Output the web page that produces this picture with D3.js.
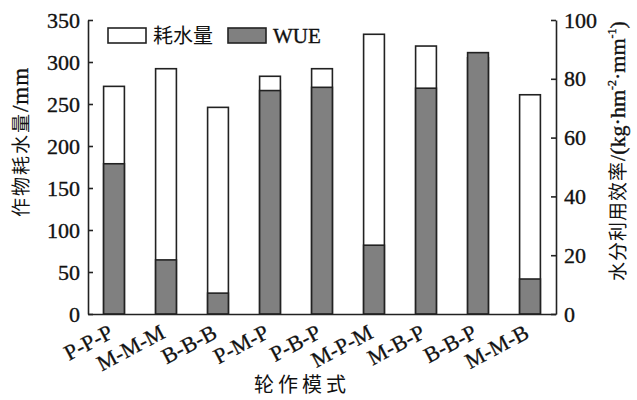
<!DOCTYPE html>
<html>
<head>
<meta charset="utf-8">
<script src="https://cdn.jsdelivr.net/npm/d3@7"></script>
<style>
  body { margin: 0; background: #fff; }
  text { fill: #111; }
  .tick text { font-family: "Liberation Serif", serif; font-size: 22px; stroke: #111; stroke-width: 0.35px; }
  .cjk { font-family: "Noto Sans CJK SC", sans-serif; }
  .serif { font-family: "Liberation Serif", serif; stroke: #111; stroke-width: 0.35px; }
</style>
</head>
<body>
<svg width="637" height="400"></svg>
<script>
const patterns = ["P-P-P", "M-M-M", "B-B-B", "P-M-P", "P-B-P", "M-P-M", "M-B-P", "B-B-P", "M-M-B"];
const waterUse = [271, 292, 246, 283, 292, 333, 319, 305, 261];
const wue = [51.1, 18.4, 7.1, 76.0, 77.1, 23.4, 76.8, 88.9, 11.9];
const leftTicks = [0, 50, 100, 150, 200, 250, 300, 350];
const rightTicks = [0, 20, 40, 60, 80, 100];

const margin = { top: 20, right: 81, bottom: 86, left: 88 };
const width = 637 - margin.left - margin.right;
const height = 400 - margin.top - margin.bottom;

const svg = d3.select("svg")
  .append("g")
  .attr("transform", `translate(${margin.left},${margin.top})`);

const x = d3.scaleBand().domain(patterns).range([0, width])
  .paddingInner(0.6).paddingOuter(0.3);
const yLeft = d3.scaleLinear().domain([0, 350]).range([height, 0]);
const yRight = d3.scaleLinear().domain([0, 100]).range([height, 0]);

// water use bars (white)
svg.selectAll(".water")
  .data(patterns)
  .enter()
  .append("rect")
  .attr("x", d => x(d))
  .attr("y", (d, i) => yLeft(waterUse[i]))
  .attr("width", x.bandwidth())
  .attr("height", (d, i) => height - yLeft(waterUse[i]))
  .attr("fill", "#fff")
  .attr("stroke", "#222")
  .attr("stroke-width", 1.6);

// WUE bars (gray) drawn on top
svg.selectAll(".wue")
  .data(patterns)
  .enter()
  .append("rect")
  .attr("x", d => x(d))
  .attr("y", (d, i) => yRight(wue[i]))
  .attr("width", x.bandwidth())
  .attr("height", (d, i) => height - yRight(wue[i]))
  .attr("fill", "#808080")
  .attr("stroke", "#222")
  .attr("stroke-width", 1.6);

// left axis
const gl = svg.append("g")
  .call(d3.axisLeft(yLeft).tickValues(leftTicks).tickSizeInner(-5).tickSizeOuter(0).tickPadding(8));
// right axis
const gr = svg.append("g")
  .attr("transform", `translate(${width},0)`)
  .call(d3.axisRight(yRight).tickValues(rightTicks).tickSizeInner(-5).tickSizeOuter(0).tickPadding(8));
// bottom axis
const gb = svg.append("g")
  .attr("transform", `translate(0,${height})`)
  .call(d3.axisBottom(x).tickSize(0).tickSizeOuter(0));
gb.selectAll("text")
  .style("font-size", "22px")
  .style("stroke-width", "0.3px")
  .attr("text-anchor", "end")
  .attr("transform", "translate(-7,9) rotate(-28)")
  .attr("dy", "0.72em")
  .attr("y", 0);

[gl, gr, gb].forEach(g => {
  g.select(".domain").attr("stroke", "#222").attr("stroke-width", 1.6);
  g.selectAll(".tick line").attr("stroke", "#222").attr("stroke-width", 1.6);
});

// axis titles
svg.append("text")
  .attr("class", "cjk")
  .style("font-size", "20px")
  .attr("x", width / 2 - 20)
  .attr("y", height + 78)
  .attr("text-anchor", "middle")
  .attr("letter-spacing", "4px")
  .text("轮作模式");

svg.append("text")
  .attr("class", "cjk")
  .style("font-size", "19px")
  .attr("transform", `translate(${-60},${height / 2 - 25}) rotate(-90)`)
  .attr("text-anchor", "middle")
  .html('<tspan letter-spacing="2">作物耗水量</tspan><tspan class="serif" style="font-size:23px" letter-spacing="1">/mm</tspan>');

svg.append("text")
  .attr("class", "cjk")
  .style("font-size", "19px")
  .attr("transform", `translate(${width + 69},${height / 2 - 16}) rotate(-90)`)
  .attr("text-anchor", "middle")
  .html('<tspan letter-spacing="1">水分利用效率</tspan>' +
    '<tspan class="serif" style="font-size:22px">/(kg·hm</tspan>' +
    '<tspan class="serif" style="font-size:12px" dy="-9">-2</tspan>' +
    '<tspan class="serif" style="font-size:22px" dy="9">·mm</tspan>' +
    '<tspan class="serif" style="font-size:12px" dy="-9">-1</tspan>' +
    '<tspan class="serif" style="font-size:22px" dy="9">)</tspan>');

// legend
const legend = [
  { label: "耗水量", fill: "#fff", cjk: true },
  { label: "WUE", fill: "#808080", cjk: false }
];
const lg = svg.append("g").attr("transform", "translate(20,8)");
legend.forEach((d, i) => {
  const g = lg.append("g").attr("transform", `translate(${i * 120},0)`);
  g.append("rect")
    .attr("width", 38).attr("height", 15)
    .attr("fill", d.fill).attr("stroke", "#222").attr("stroke-width", 1.6);
  g.append("text")
    .attr("x", 45).attr("y", 15)
    .attr("class", d.cjk ? "cjk" : "serif")
    .style("font-size", d.cjk ? "20px" : "21px")
    .text(d.label);
});
</script>
</body>
</html>
